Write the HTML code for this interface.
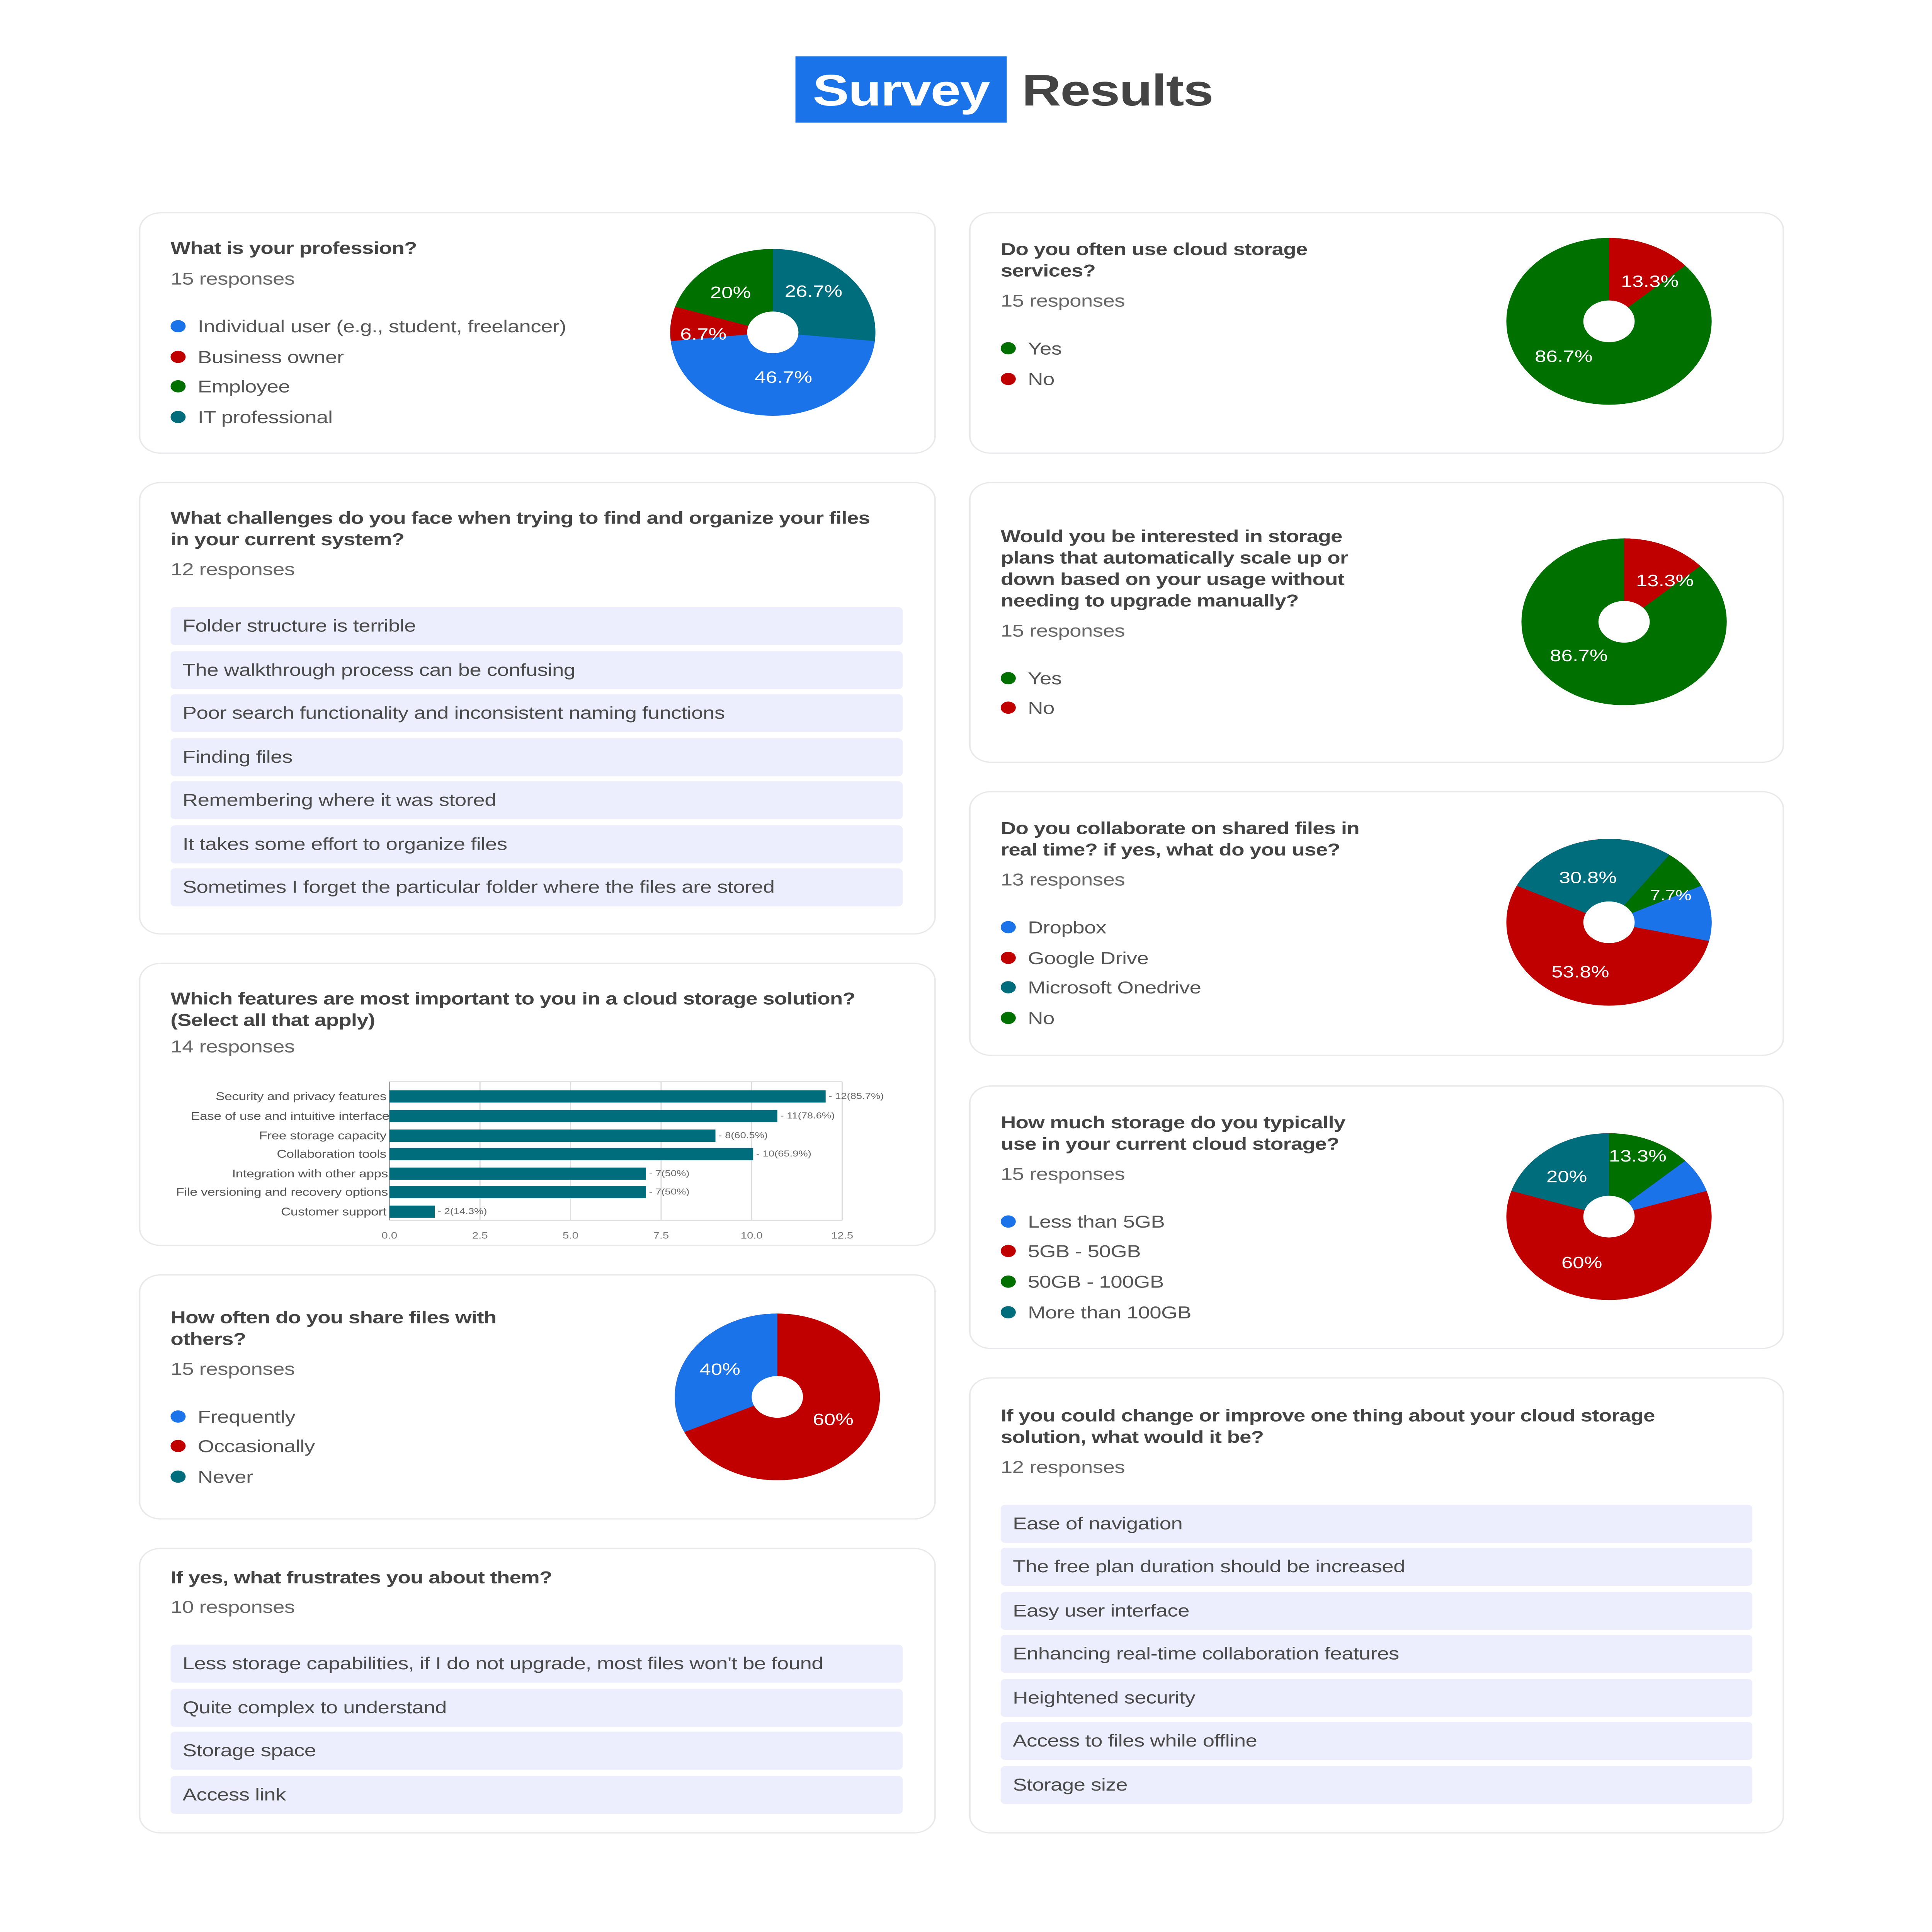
<!DOCTYPE html>
<html><head><meta charset="utf-8">
<meta name="viewport" content="width=5600">
<style>
html,body{margin:0;padding:0;background:#fff;width:100%;height:100%;overflow:hidden;}
svg{display:block;position:fixed;left:0;top:0;width:100vw;height:100vh;}
text{font-family:"Liberation Sans",sans-serif;}
.q{font-size:14px;font-weight:bold;fill:#444;letter-spacing:-0.2px;}
.r{font-size:14px;fill:#666;letter-spacing:-0.15px;}
.lg{font-size:14px;fill:#555;letter-spacing:-0.15px;}
.it{font-size:14px;fill:#4a4a4a;letter-spacing:-0.15px;}
.pl{font-size:13.5px;fill:#fff;text-anchor:middle;}
.cl{font-size:9px;fill:#555;text-anchor:end;letter-spacing:-0.1px;}
.bv{font-size:7px;fill:#666;}
.tk{font-size:7.5px;fill:#777;text-anchor:middle;}
.card{fill:#fff;stroke:#e9e9ec;stroke-width:1;}
.ib{fill:#eceefd;}
</style></head><body>
<svg viewBox="0 0 1280 1575.3" preserveAspectRatio="none" xmlns="http://www.w3.org/2000/svg">
<rect x="0" y="0" width="1280" height="1576" fill="#fff"/>

<rect x="527" y="46" width="140" height="54" fill="#1a73e8"/>
<text x="597" y="86" text-anchor="middle" style="font-size:36px;font-weight:bold;fill:#fff;letter-spacing:-0.5px">Survey</text>
<text x="677" y="86" style="font-size:36px;font-weight:bold;fill:#444;letter-spacing:-0.5px">Results</text>

<!-- L1 -->
<rect class="card" x="92.5" y="173.5" width="527" height="196" rx="14"/>
<text class="q" x="113" y="207">What is your profession?</text>
<text class="r" x="113" y="232">15 responses</text>
<circle cx="118" cy="266" r="5" fill="#1a73e8"/><text class="lg" x="131" y="271">Individual user (e.g., student, freelancer)</text>
<circle cx="118" cy="291" r="5" fill="#c00000"/><text class="lg" x="131" y="296">Business owner</text>
<circle cx="118" cy="315" r="5" fill="#007000"/><text class="lg" x="131" y="320">Employee</text>
<circle cx="118" cy="340" r="5" fill="#006d7d"/><text class="lg" x="131" y="345">IT professional</text>
<circle cx="512" cy="271" r="68" fill="#1a73e8"/>
<path d="M512,271 L512,203 A68,68 0 0 1 579.6,278.1 Z" fill="#006d7d"/>
<path d="M512,271 L444.4,278.1 A68,68 0 0 1 447.3,250 Z" fill="#c00000"/>
<path d="M512,271 L447.3,250 A68,68 0 0 1 512,203 Z" fill="#007000"/>
<circle cx="512" cy="271" r="17" fill="#fff"/>
<text class="pl" x="539" y="242">26.7%</text>
<text class="pl" x="519" y="312">46.7%</text>
<text class="pl" x="466" y="277">6.7%</text>
<text class="pl" x="484" y="243">20%</text>

<!-- R1 -->
<rect class="card" x="642.5" y="173.5" width="539" height="196" rx="14"/>
<text class="q" x="663" y="208">Do you often use cloud storage</text>
<text class="q" x="663" y="225.5">services?</text>
<text class="r" x="663" y="250">15 responses</text>
<circle cx="668" cy="284" r="5" fill="#007000"/><text class="lg" x="681" y="289">Yes</text>
<circle cx="668" cy="309" r="5" fill="#c00000"/><text class="lg" x="681" y="314">No</text>
<circle cx="1066" cy="262" r="68" fill="#007000"/>
<path d="M1066,262 L1066,194 A68,68 0 0 1 1116.5,216.5 Z" fill="#c00000"/>
<circle cx="1066" cy="262" r="17" fill="#fff"/>
<text class="pl" x="1093" y="234">13.3%</text>
<text class="pl" x="1036" y="295">86.7%</text>

<!-- L2 -->
<rect class="card" x="92.5" y="393.5" width="527" height="368" rx="14"/>
<text class="q" x="113" y="427">What challenges do you face when trying to find and organize your files</text>
<text class="q" x="113" y="444.5">in your current system?</text>
<text class="r" x="113" y="469">12 responses</text>
<rect class="ib" x="113" y="495" width="485" height="31" rx="3"/><text class="it" x="121" y="515">Folder structure is terrible</text>
<rect class="ib" x="113" y="531" width="485" height="31" rx="3"/><text class="it" x="121" y="551">The walkthrough process can be confusing</text>
<rect class="ib" x="113" y="566" width="485" height="31" rx="3"/><text class="it" x="121" y="586">Poor search functionality and inconsistent naming functions</text>
<rect class="ib" x="113" y="602" width="485" height="31" rx="3"/><text class="it" x="121" y="622">Finding files</text>
<rect class="ib" x="113" y="637" width="485" height="31" rx="3"/><text class="it" x="121" y="657">Remembering where it was stored</text>
<rect class="ib" x="113" y="673" width="485" height="31" rx="3"/><text class="it" x="121" y="693">It takes some effort to organize files</text>
<rect class="ib" x="113" y="708" width="485" height="31" rx="3"/><text class="it" x="121" y="728">Sometimes I forget the particular folder where the files are stored</text>

<!-- R2 -->
<rect class="card" x="642.5" y="393.5" width="539" height="228" rx="14"/>
<text class="q" x="663" y="442">Would you be interested in storage</text>
<text class="q" x="663" y="459.5">plans that automatically scale up or</text>
<text class="q" x="663" y="477">down based on your usage without</text>
<text class="q" x="663" y="494.5">needing to upgrade manually?</text>
<text class="r" x="663" y="519">15 responses</text>
<circle cx="668" cy="553" r="5" fill="#007000"/><text class="lg" x="681" y="558">Yes</text>
<circle cx="668" cy="577" r="5" fill="#c00000"/><text class="lg" x="681" y="582">No</text>
<circle cx="1076" cy="507" r="68" fill="#007000"/>
<path d="M1076,507 L1076,439 A68,68 0 0 1 1126.5,461.5 Z" fill="#c00000"/>
<circle cx="1076" cy="507" r="17" fill="#fff"/>
<text class="pl" x="1103" y="478">13.3%</text>
<text class="pl" x="1046" y="539">86.7%</text>

<!-- R3 -->
<rect class="card" x="642.5" y="645.5" width="539" height="215" rx="14"/>
<text class="q" x="663" y="680">Do you collaborate on shared files in</text>
<text class="q" x="663" y="697.5">real time? if yes, what do you use?</text>
<text class="r" x="663" y="722">13 responses</text>
<circle cx="668" cy="756" r="5" fill="#1a73e8"/><text class="lg" x="681" y="761">Dropbox</text>
<circle cx="668" cy="781" r="5" fill="#c00000"/><text class="lg" x="681" y="786">Google Drive</text>
<circle cx="668" cy="805" r="5" fill="#006d7d"/><text class="lg" x="681" y="810">Microsoft Onedrive</text>
<circle cx="668" cy="830" r="5" fill="#007000"/><text class="lg" x="681" y="835">No</text>
<circle cx="1066" cy="752" r="68" fill="#c00000"/>
<path d="M1066,752 L1004.9,722.2 A68,68 0 0 1 1106,697 Z" fill="#006d7d"/>
<path d="M1066,752 L1106,697 A68,68 0 0 1 1127.1,722.2 Z" fill="#007000"/>
<path d="M1066,752 L1127.1,722.2 A68,68 0 0 1 1132.3,767.3 Z" fill="#1a73e8"/>
<circle cx="1066" cy="752" r="17" fill="#fff"/>
<text class="pl" x="1052" y="720">30.8%</text>
<text class="pl" x="1107" y="734" style="font-size:12px">7.7%</text>
<text class="pl" x="1047" y="797">53.8%</text>

<!-- L3 -->
<rect class="card" x="92.5" y="785.5" width="527" height="230" rx="14"/>
<text class="q" x="113" y="819">Which features are most important to you in a cloud storage solution?</text>
<text class="q" x="113" y="836.5">(Select all that apply)</text>
<text class="r" x="113" y="858">14 responses</text>
<g stroke="#ddd" stroke-width="0.8">
<line x1="258" y1="882" x2="558" y2="882"/><line x1="258" y1="995" x2="558" y2="995"/>
<line x1="318" y1="882" x2="318" y2="995"/><line x1="378" y1="882" x2="378" y2="995"/>
<line x1="438" y1="882" x2="438" y2="995"/><line x1="498" y1="882" x2="498" y2="995"/>
<line x1="558" y1="882" x2="558" y2="995"/>
</g>
<line x1="258" y1="882" x2="258" y2="995" stroke="#999" stroke-width="0.8"/>
<text class="tk" x="258" y="1010">0.0</text><text class="tk" x="318" y="1010">2.5</text><text class="tk" x="378" y="1010">5.0</text>
<text class="tk" x="438" y="1010">7.5</text><text class="tk" x="498" y="1010">10.0</text><text class="tk" x="558" y="1010">12.5</text>
<g fill="#006d7d">
<rect x="258" y="889" width="289" height="10"/>
<rect x="258" y="905" width="257" height="10"/>
<rect x="258" y="921" width="216" height="10"/>
<rect x="258" y="936" width="241" height="10"/>
<rect x="258" y="952" width="170" height="10"/>
<rect x="258" y="967" width="170" height="10"/>
<rect x="258" y="983" width="30" height="10"/>
</g>
<text class="cl" x="256" y="897">Security and privacy features</text>
<text class="cl" x="258" y="913">Ease of use and intuitive interface</text>
<text class="cl" x="256" y="929">Free storage capacity</text>
<text class="cl" x="256" y="944">Collaboration tools</text>
<text class="cl" x="257" y="960">Integration with other apps</text>
<text class="cl" x="257" y="975">File versioning and recovery options</text>
<text class="cl" x="256" y="991">Customer support</text>
<text class="bv" x="549" y="896">- 12(85.7%)</text>
<text class="bv" x="517" y="912">- 11(78.6%)</text>
<text class="bv" x="476" y="928">- 8(60.5%)</text>
<text class="bv" x="501" y="943">- 10(65.9%)</text>
<text class="bv" x="430" y="959">- 7(50%)</text>
<text class="bv" x="430" y="974">- 7(50%)</text>
<text class="bv" x="290" y="990">- 2(14.3%)</text>

<!-- R4 -->
<rect class="card" x="642.5" y="885.5" width="539" height="214" rx="14"/>
<text class="q" x="663" y="920">How much storage do you typically</text>
<text class="q" x="663" y="937.5">use in your current cloud storage?</text>
<text class="r" x="663" y="962">15 responses</text>
<circle cx="668" cy="996" r="5" fill="#1a73e8"/><text class="lg" x="681" y="1001">Less than 5GB</text>
<circle cx="668" cy="1020" r="5" fill="#c00000"/><text class="lg" x="681" y="1025">5GB - 50GB</text>
<circle cx="668" cy="1045" r="5" fill="#007000"/><text class="lg" x="681" y="1050">50GB - 100GB</text>
<circle cx="668" cy="1070" r="5" fill="#006d7d"/><text class="lg" x="681" y="1075">More than 100GB</text>
<circle cx="1066" cy="992" r="68" fill="#c00000"/>
<path d="M1066,992 L1066,924 A68,68 0 0 1 1116.5,946.5 Z" fill="#007000"/>
<path d="M1066,992 L1116.5,946.5 A68,68 0 0 1 1130.7,971 Z" fill="#1a73e8"/>
<path d="M1066,992 L1001.3,971 A68,68 0 0 1 1066,924 Z" fill="#006d7d"/>
<circle cx="1066" cy="992" r="17" fill="#fff"/>
<text class="pl" x="1085" y="947">13.3%</text>
<text class="pl" x="1038" y="964">20%</text>
<text class="pl" x="1048" y="1034">60%</text>

<!-- L4 -->
<rect class="card" x="92.5" y="1039.5" width="527" height="199" rx="14"/>
<text class="q" x="113" y="1079">How often do you share files with</text>
<text class="q" x="113" y="1096.5">others?</text>
<text class="r" x="113" y="1121">15 responses</text>
<circle cx="118" cy="1155" r="5" fill="#1a73e8"/><text class="lg" x="131" y="1160">Frequently</text>
<circle cx="118" cy="1179" r="5" fill="#c00000"/><text class="lg" x="131" y="1184">Occasionally</text>
<circle cx="118" cy="1204" r="5" fill="#006d7d"/><text class="lg" x="131" y="1209">Never</text>
<circle cx="515" cy="1139" r="68" fill="#c00000"/>
<path d="M515,1139 L453.4,1167.7 A68,68 0 0 1 515,1071 Z" fill="#1a73e8"/>
<circle cx="515" cy="1139" r="17" fill="#fff"/>
<text class="pl" x="477" y="1121">40%</text>
<text class="pl" x="552" y="1162">60%</text>

<!-- L5 -->
<rect class="card" x="92.5" y="1262.5" width="527" height="232" rx="14"/>
<text class="q" x="113" y="1291">If yes, what frustrates you about them?</text>
<text class="r" x="113" y="1315">10 responses</text>
<rect class="ib" x="113" y="1341" width="485" height="31" rx="3"/><text class="it" x="121" y="1361">Less storage capabilities, if I do not upgrade, most files won't be found</text>
<rect class="ib" x="113" y="1377" width="485" height="31" rx="3"/><text class="it" x="121" y="1397">Quite complex to understand</text>
<rect class="ib" x="113" y="1412" width="485" height="31" rx="3"/><text class="it" x="121" y="1432">Storage space</text>
<rect class="ib" x="113" y="1448" width="485" height="31" rx="3"/><text class="it" x="121" y="1468">Access link</text>

<!-- R5 -->
<rect class="card" x="642.5" y="1123.5" width="539" height="371" rx="14"/>
<text class="q" x="663" y="1159">If you could change or improve one thing about your cloud storage</text>
<text class="q" x="663" y="1176.5">solution, what would it be?</text>
<text class="r" x="663" y="1201">12 responses</text>
<rect class="ib" x="663" y="1227" width="498" height="31" rx="3"/><text class="it" x="671" y="1247">Ease of navigation</text>
<rect class="ib" x="663" y="1262" width="498" height="31" rx="3"/><text class="it" x="671" y="1282">The free plan duration should be increased</text>
<rect class="ib" x="663" y="1298" width="498" height="31" rx="3"/><text class="it" x="671" y="1318">Easy user interface</text>
<rect class="ib" x="663" y="1333" width="498" height="31" rx="3"/><text class="it" x="671" y="1353">Enhancing real-time collaboration features</text>
<rect class="ib" x="663" y="1369" width="498" height="31" rx="3"/><text class="it" x="671" y="1389">Heightened security</text>
<rect class="ib" x="663" y="1404" width="498" height="31" rx="3"/><text class="it" x="671" y="1424">Access to files while offline</text>
<rect class="ib" x="663" y="1440" width="498" height="31" rx="3"/><text class="it" x="671" y="1460">Storage size</text>
</svg>
</body></html>
